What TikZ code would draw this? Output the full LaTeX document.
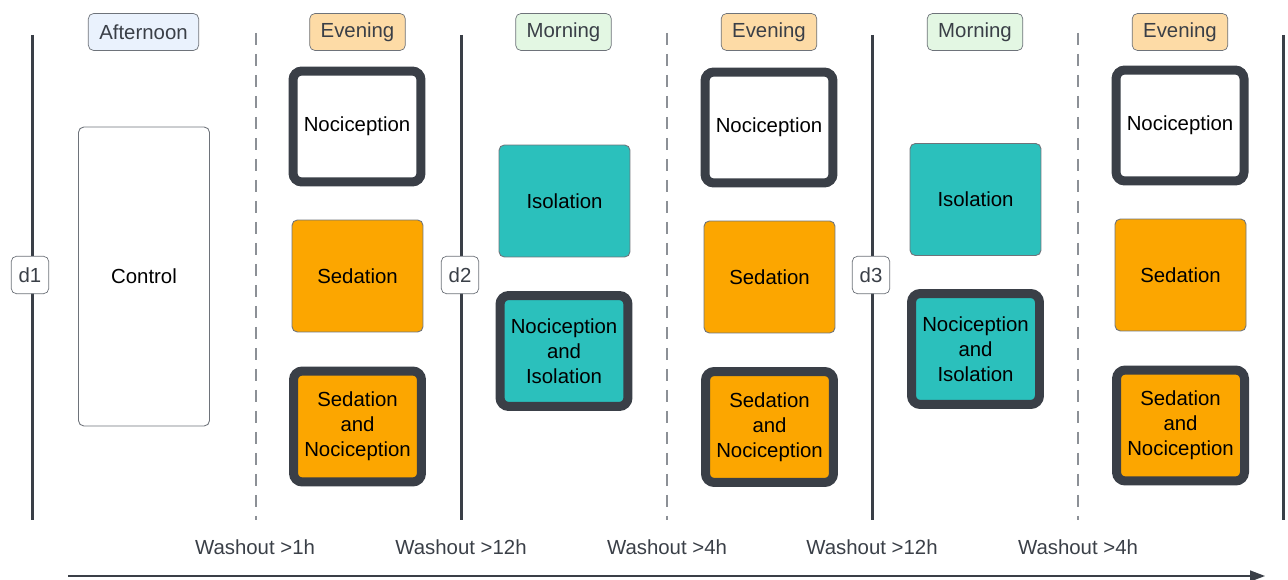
\documentclass[tikz,border=0pt]{standalone}
\usepackage{fontspec}
\setmainfont{Liberation Sans}
\usetikzlibrary{arrows.meta,positioning}
\definecolor{slate}{HTML}{3A3F47}
\definecolor{dashgray}{HTML}{8C9096}
\definecolor{edgegray}{HTML}{6E737A}
\definecolor{sedorange}{HTML}{FCA600}
\definecolor{isoteal}{HTML}{2BC0BC}
\definecolor{noonblue}{HTML}{EAF2FD}
\definecolor{eveorange}{HTML}{FDDBA6}
\definecolor{mornggreen}{HTML}{E3F7E3}

\tikzset{
  txt/.style={font=\fontsize{11.6}{14.2}\selectfont, align=center},
  daybox/.style={txt, draw=edgegray, fill=white, text=slate, rounded corners=3pt,
    minimum width=0.75cm, minimum height=0.75cm, inner sep=0pt},
  period/.style={txt, draw=edgegray, text=slate, rounded corners=3pt,
    minimum height=0.74cm, inner xsep=0.22cm, inner ysep=0pt},
  trial/.style={txt, draw=edgegray, line width=0.5pt, rounded corners=3pt,
    minimum width=2.62cm, minimum height=2.24cm},
  painbox/.style={txt, draw=slate, line width=0.18cm, rounded corners=5pt,
    minimum width=2.56cm, minimum height=2.22cm},
  daysep/.style={slate, line width=0.06cm},
  washsep/.style={dashgray, line width=0.6pt, dash pattern=on 0.24cm off 0.18cm},
  washout/.style={txt, text=slate},
}

\begin{document}
\begin{tikzpicture}[x=0.02cm, y=-0.02cm]
  \useasboundingbox (0,0) rectangle (1288,580);

  % day boundaries and washout gaps
  \foreach \x in {32,461,872,1283}
    \draw[daysep] (\x,35) -- (\x,520);
  \foreach \x in {256,667,1078}
    \draw[washsep] (\x,33) -- (\x,520);

  \node[daybox] (d1) at (30,275) {d1};
  \node[daybox] (d2) at (460,275) {d2};
  \node[daybox] (d3) at (871,275) {d3};

  % time of day
  \node[period, fill=noonblue] (noon1) at (143.5,32) {Afternoon};
  \node[period, fill=eveorange] (eve1) at (357.5,32) {Evening};
  \node[period, fill=mornggreen] (morn2) at (563.5,32) {Morning};
  \node[period, fill=eveorange] (eve2) at (769,32) {Evening};
  \node[period, fill=mornggreen] (morn3) at (975,32) {Morning};
  \node[period, fill=eveorange] (eve3) at (1180,32) {Evening};

  % day 1
  \node[trial, fill=white, minimum height=5.98cm] (ctrl) at (144,276.5) {Control};
  \node[painbox, fill=white] (noc1) at (357,126.5) {Nociception};
  \node[trial, fill=sedorange] (sed1) at (357.5,276) {Sedation};
  \node[painbox, fill=sedorange] (sednoc1) at (357.5,426.5) {Sedation\\and\\Nociception};

  % day 2
  \node[trial, fill=isoteal] (iso2) at (564.5,201) {Isolation};
  \node[painbox, fill=isoteal] (nociso2) at (564,351) {Nociception\\and\\Isolation};
  \node[painbox, fill=white] (noc2) at (769,127.5) {Nociception};
  \node[trial, fill=sedorange] (sed2) at (769.5,277) {Sedation};
  \node[painbox, fill=sedorange] (sednoc2) at (769.5,427) {Sedation\\and\\Nociception};

  % day 3
  \node[trial, fill=isoteal] (iso3) at (975.5,199.5) {Isolation};
  \node[painbox, fill=isoteal] (nociso3) at (975.5,349) {Nociception\\and\\Isolation};
  \node[painbox, fill=white] (noc3) at (1180,125.5) {Nociception};
  \node[trial, fill=sedorange] (sed3) at (1180.5,275) {Sedation};
  \node[painbox, fill=sedorange] (sednoc3) at (1180.5,425.5) {Sedation\\and\\Nociception};

  % washout times
  \node[washout] (w1) at (255,547) {Washout >1h};
  \node[washout] (w2) at (461,547) {Washout >12h};
  \node[washout] (w3) at (667,547) {Washout >4h};
  \node[washout] (w4) at (872,547) {Washout >12h};
  \node[washout] (w5) at (1078,547) {Washout >4h};

  % time axis
  \coordinate (tstart) at (68,576);
  \coordinate (tend) at (1265,576);
  \draw[slate, line width=0.8pt, -{Triangle[length=0.3cm, width=0.22cm]}] (tstart) -- (tend);
\end{tikzpicture}
\end{document}
